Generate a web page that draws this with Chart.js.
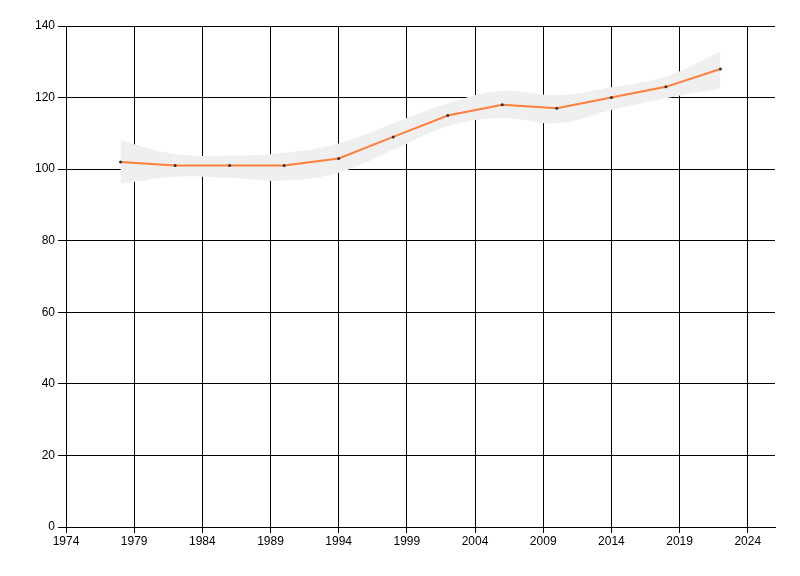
<!DOCTYPE html>
<html>
<head>
<meta charset="utf-8">
<script src="https://cdn.jsdelivr.net/npm/chart.js@4"></script>
<style>
  html, body { margin: 0; padding: 0; background: #fff; }
  #wrap { width: 800px; height: 576px; }
</style>
</head>
<body>
<div id="wrap"><canvas id="chart" width="800" height="576"></canvas></div>
<script>
// years and values
var years = [1978, 1982, 1986, 1990, 1994, 1998, 2002, 2006, 2010, 2014, 2018, 2022];
var values = [102, 101, 101, 101, 103, 109, 115, 118, 117, 120, 123, 128];
var upper = [108, 104.2, 103.8, 104.6, 107.2, 112.8, 118.4, 121.9, 120.7, 122.9, 125.9, 132.8];
var lower = [95.9, 97.9, 97.5, 96.8, 99, 105.4, 112, 114.3, 112.8, 116.5, 119.8, 122.6];
var xTicks = [1974, 1979, 1984, 1989, 1994, 1999, 2004, 2009, 2014, 2019, 2024];
var yTicks = [0, 20, 40, 60, 80, 100, 120, 140];

function pts(arr) {
	var out = [];
	for (var i in years) {
		out.push({ x: years[i], y: arr[i] });
	}
	return out;
}

var tickFont = { family: "'Liberation Sans Narrow', 'Liberation Sans', sans-serif", size: 12 };
var ctx = document.getElementById('chart');

var chart = new Chart(ctx, {
	type: 'line',
	data: {
		datasets: [
			{
				label: 'upper',
				data: pts(upper),
				borderWidth: 0,
				borderColor: 'rgba(0,0,0,0)',
				backgroundColor: '#efefef',
				pointRadius: 0,
				tension: 0.4,
				fill: '+1',
				order: 3
			},
			{
				label: 'lower',
				data: pts(lower),
				borderWidth: 0,
				borderColor: 'rgba(0,0,0,0)',
				pointRadius: 0,
				tension: 0.4,
				fill: false,
				order: 3
			},
			{
				label: 'value',
				data: pts(values),
				borderColor: '#ff7f3a',
				borderWidth: 2,
				pointRadius: 1.5,
				pointBorderWidth: 0,
				pointBackgroundColor: '#333333',
				fill: false,
				tension: 0,
				order: 1
			}
		]
	},
	options: {
		responsive: false,
		animation: false,
		layout: { padding: { top: 26, right: 25, left: 0, bottom: 0 } },
		plugins: {
			legend: { display: false },
			tooltip: { enabled: false }
		},
		scales: {
			x: {
				type: 'linear',
				min: 1974,
				max: 2026,
				afterBuildTicks: function(axis) {
					axis.ticks = xTicks.map(function(v) { return { value: v }; });
				},
				afterFit: function(axis) { axis.height = 49; },
				ticks: {
					color: '#000',
					font: tickFont,
					padding: 1,
					maxRotation: 0,
					callback: function(v) { return String(v); }
				},
				grid: { color: '#000', lineWidth: 1, tickLength: 6 },
				border: { color: '#000', width: 1 }
			},
			y: {
				min: 0,
				max: 140,
				afterBuildTicks: function(axis) {
					axis.ticks = yTicks.map(function(v) { return { value: v }; });
				},
				afterFit: function(axis) { axis.width = 66; },
				ticks: {
					color: '#000',
					font: tickFont,
					padding: 3
				},
				grid: { color: '#000', lineWidth: 1, tickLength: 8 },
				border: { color: '#000', width: 1 }
			}
		}
	}
});
</script>
</body>
</html>
